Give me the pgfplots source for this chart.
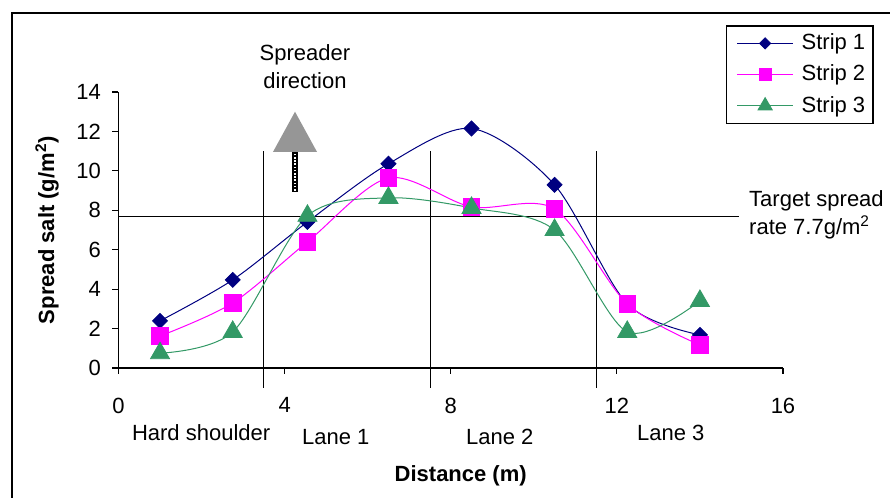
\documentclass[border=0pt]{standalone}
\usepackage{pgfplots}
\pgfplotsset{compat=1.18}
\usepackage{fontspec}
\setmainfont{Liberation Sans}
\definecolor{stripone}{RGB}{0,0,128}
\definecolor{striptwo}{RGB}{255,0,255}
\definecolor{stripthree}{RGB}{51,153,102}
\definecolor{arrowgray}{RGB}{150,150,150}
\begin{document}
\fontsize{11}{13}\selectfont
\begin{tikzpicture}
\path[use as bounding box] (0,0) rectangle (445pt,249pt);
\draw[line width=0.7pt] (6pt,-5pt) rectangle (450pt,242.5pt);
\begin{axis}[
  at={(59.25pt,65pt)}, anchor=south west,
  scale only axis, width=332.25pt, height=138pt,
  xmin=0, xmax=16, ymin=0, ymax=14,
  axis lines*=left,
  axis line style={line width=0.6pt},
  xtick={0,4,8,12,16}, ytick={0,2,...,14},
  tick align=outside, major tick length=3pt,
  tick style={black, line width=0.6pt},
  /pgf/number format/assume math mode=true,
  ticklabel style={font=\fontsize{11}{13}\selectfont},
  xticklabel style={yshift=-8pt},
  yticklabel style={xshift=-2pt},
  xlabel={\textbf{Distance (m)}},
  ylabel={\textbf{Spread salt (g/m\textsuperscript{2})}},
  xlabel style={at={(axis description cs:0.515,-0.391)},anchor=center},
  ylabel style={at={(axis description cs:-0.1076,0.5)},anchor=center},
  clip=false,
  legend style={at={(rel axis cs:0.914,1.243)}, anchor=north west,
    draw=black, line width=0.8pt, inner sep=2pt, row sep=2pt,
    font=\fontsize{11}{13}\selectfont, legend cell align=left},
  legend image code/.code={\path (0pt,0pt) (33pt,0pt);\draw[mark repeat=2,mark phase=2,#1, every mark/.append style={scale=0.75}] plot coordinates {(3pt,0pt) (17pt,0pt) (31pt,0pt)};},
]
% reference lines
\addplot[black, line width=0.6pt, forget plot] coordinates {(0,7.7) (14.95,7.7)};
\addplot[black, line width=0.6pt, forget plot] coordinates {(3.5,-1) (3.5,11)};
\addplot[black, line width=0.6pt, forget plot] coordinates {(7.52,-1) (7.52,11)};
\addplot[black, line width=0.6pt, forget plot] coordinates {(11.5,-1) (11.5,11)};
% arrow
\fill[arrowgray] (axis cs:3.72,10.96) -- (axis cs:4.78,10.96) -- (axis cs:4.25,13.0) -- cycle;
\fill[black] (axis cs:4.18,8.93) rectangle (axis cs:4.32,10.96);
\draw[white, line width=1.2pt, dash pattern=on 0.8pt off 0.8pt] (axis cs:4.25,9.0) -- (axis cs:4.25,10.9);
% data
\addplot[stripone, line width=0.5pt, smooth, mark=square*, mark size=2.65pt, mark options={rotate=45, fill=stripone, line width=0.4pt}]
  coordinates {(1,2.39) (2.75,4.47) (4.55,7.41) (6.5,10.36) (8.5,12.15) (10.5,9.29) (12.25,3.25) (14,1.68)};
\addlegendentry{Strip 1}
\addplot[striptwo, line width=0.5pt, smooth, mark=square*, mark size=4.1pt, mark options={fill=striptwo, line width=0.4pt}]
  coordinates {(1,1.62) (2.75,3.30) (4.55,6.40) (6.5,9.64) (8.5,8.17) (10.5,8.07) (12.25,3.25) (14,1.17)};
\addlegendentry{Strip 2}
\addplot[stripthree, line width=0.5pt, smooth, mark=triangle*, mark size=5.5pt, mark options={fill=stripthree, line width=0.4pt}]
  coordinates {(1,0.75) (2.75,1.83) (4.55,7.72) (6.5,8.63) (8.5,8.12) (10.5,7.0) (12.25,1.83) (14,3.4)};
\addlegendentry{Strip 3}
% annotations
\node[align=center] at (axis cs:4.49,15.27) {Spreader\\[1pt]direction};
\node[anchor=west, align=left] at (axis cs:15.0,7.76) {Target spread\\[1pt]rate 7.7g/m\textsuperscript{2}};
\node at (axis cs:1.99,-3.3) {Hard shoulder};
\node at (axis cs:5.23,-3.5) {Lane 1};
\node at (axis cs:9.18,-3.5) {Lane 2};
\node at (axis cs:13.3,-3.3) {Lane 3};
\end{axis}
\end{tikzpicture}
\end{document}
